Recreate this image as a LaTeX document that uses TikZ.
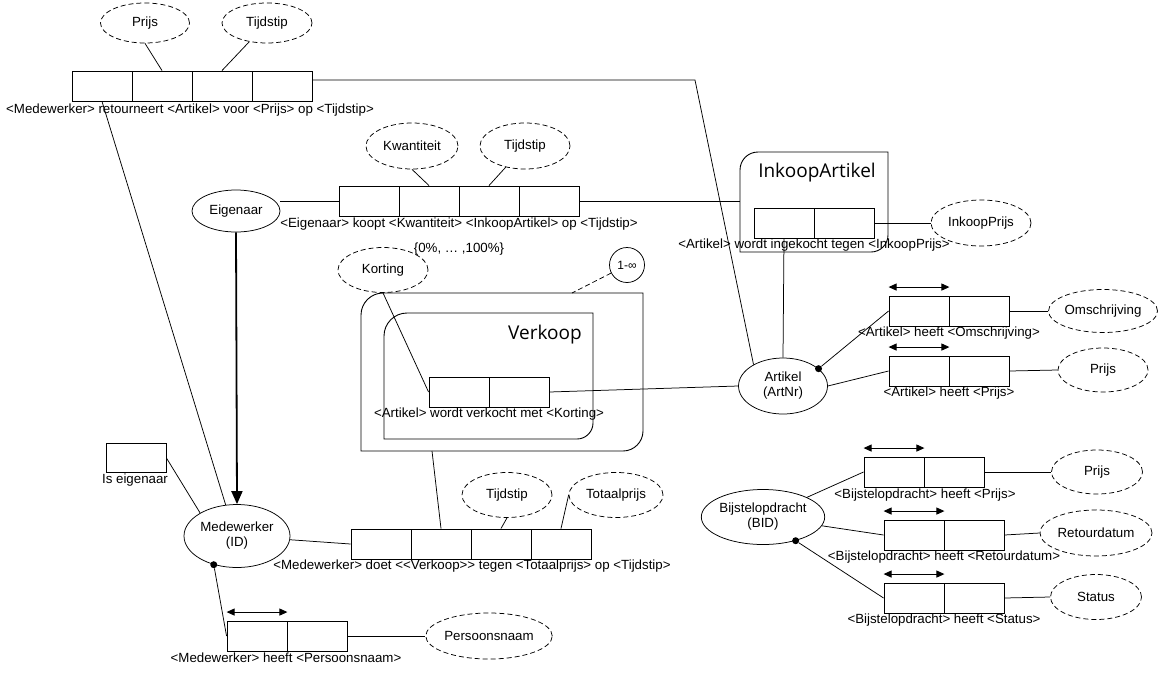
\documentclass[tikz,border=0pt]{standalone}
\usepackage{fontspec}
\setmainfont{Liberation Sans}
\newfontfamily\titlefont{Open Sans}
\usetikzlibrary{shapes.geometric,arrows.meta,calc}
\newcommand\labfont{\fontsize{13.3}{15}\selectfont}
\begin{document}
\begin{tikzpicture}[x=1pt,y=-1pt,
  every node/.style={font=\labfont},
  cell/.style={draw, line width=0.9pt, minimum width=60pt, minimum height=30pt, inner sep=0pt},
  attr/.style={ellipse, draw, dash pattern=on 5pt off 3pt, line width=0.75pt, inner sep=0pt, minimum width=90pt, minimum height=44pt},
  ent/.style={ellipse, draw, line width=0.75pt, inner sep=0pt, align=center},
  lbl/.style={inner sep=0pt},
  conn/.style={line width=0.75pt},
  uniq/.style={{Triangle[length=8pt,width=7pt]}-{Triangle[length=8pt,width=7pt]}, line width=0.9pt},
  dotn/.style={circle, fill, inner sep=0pt, minimum size=7pt},
  ghost/.style={inner sep=0pt},
  title/.style={inner sep=0pt, font=\titlefont\fontsize{19}{22}\selectfont},
  container/.style={line width=0.9pt}
]
\useasboundingbox (0,0) rectangle (1160,673);

% ---------- retourneert fact ----------
\node[cell] (r1) at (102,86) {};
\node[cell] (r2) at (162,86) {};
\node[cell] (r3) at (222,86) {};
\node[cell] (r4) at (282,86) {};
\node[lbl] (rl) at (190,110) {<Medewerker> retourneert <Artikel> voor <Prijs> op <Tijdstip>};
\node[attr, minimum width=89pt, minimum height=40pt] (prijsA) at (145,23) {Prijs};
\node[attr, minimum height=40pt] (tijdA) at (267,23) {Tijdstip};

% ---------- koopt fact ----------
\node[ent, minimum width=88pt, minimum height=42pt] (eig) at (236,211) {Eigenaar};
\node[cell] (k1) at (369,201) {};
\node[cell] (k2) at (429,201) {};
\node[cell] (k3) at (489,201) {};
\node[cell] (k4) at (549,201) {};
\node[lbl] (kl) at (459,224) {<Eigenaar> koopt <Kwantiteit> <InkoopArtikel> op <Tijdstip>};
\node[attr, minimum width=92pt, minimum height=46pt] (kwant) at (412,146) {Kwantiteit};
\node[attr, minimum height=46pt] (tijdB) at (525,146) {Tijdstip};

% ---------- InkoopArtikel ----------
\node[ghost, minimum width=148pt, minimum height=100pt] (inkbox) at (814,202) {};
\draw[container] (740,252) -- (740,170) .. controls (740,160) and (748,152) .. (758,152) -- (888,152) -- (888,235) .. controls (888,244.4) and (880.4,252) .. (871,252) -- cycle;
\node[title] (inkt) at (817,173) {InkoopArtikel};
\node[cell] (ink1) at (784,223) {};
\node[cell] (ink2) at (844,223) {};
\node[lbl] (inkl) at (814,245) {<Artikel> wordt ingekocht tegen <InkoopPrijs>};
\node[attr, minimum width=100pt, minimum height=46pt] (ip) at (981,223) {InkoopPrijs};

% ---------- Verkoop ----------
\node[ghost, minimum width=282pt, minimum height=158pt] (verk) at (502,372) {};
\draw[container] (361,451) -- (361,315) .. controls (361,302.9) and (370.9,293) .. (383,293) -- (643,293) -- (643,431) .. controls (643,442) and (634,451) .. (623,451) -- cycle;
\draw[container] (384,439) -- (384,336) .. controls (384,323.3) and (394.3,313) .. (407,313) -- (593,313) -- (593,423) .. controls (593,431.8) and (585.8,439) .. (577,439) -- cycle;
\node[title] (verkt) at (545,335) {Verkoop};
\node[cell] (v1) at (459,392) {};
\node[cell] (v2) at (519,392) {};
\node[lbl] (vl) at (489,414) {<Artikel> wordt verkocht met <Korting>};
\node[attr, minimum height=45pt] (kort) at (383,270) {Korting};
\node[lbl] (range) at (459,249) {\{0\%, … ,100\%\}};
\node[circle, draw, line width=0.75pt, minimum size=35pt, inner sep=0pt, font=\fontsize{12}{13}\selectfont] (one) at (627,265) {1-∞};
\coordinate (vt) at (572,293);
\coordinate (vb) at (432,451);

% ---------- Artikel ----------
\node[ent, minimum width=89pt, minimum height=56pt] (art) at (783,386) {Artikel\\(ArtNr)};
\node[cell] (ao1) at (919,311) {};
\node[cell] (ao2) at (979,311) {};
\node[lbl] (aol) at (949,333) {<Artikel> heeft <Omschrijving>};
\node[attr, minimum width=109pt, minimum height=43pt] (omsch) at (1103,311) {Omschrijving};
\node[cell] (ap1) at (919,371) {};
\node[cell] (ap2) at (979,371) {};
\node[lbl] (apl) at (949,393) {<Artikel> heeft <Prijs>};
\node[attr] (aprijs) at (1103,370) {Prijs};

% ---------- Bijstelopdracht ----------
\node[ent, minimum width=121pt, minimum height=55pt] (bij) at (763,517) {Bijstelopdracht\\(BID)};
\node[cell] (bp1) at (894,472) {};
\node[cell] (bp2) at (954,472) {};
\node[lbl] (bpl) at (925,495) {<Bijstelopdracht> heeft <Prijs>};
\node[attr, minimum width=91pt] (bprijs) at (1097,472) {Prijs};
\node[cell] (br1) at (914,535) {};
\node[cell] (br2) at (974,535) {};
\node[lbl] (brl) at (944,557) {<Bijstelopdracht> heeft <Retourdatum>};
\node[attr, minimum width=112pt, minimum height=46pt] (ret) at (1096,533) {Retourdatum};
\node[cell] (bs1) at (914,598) {};
\node[cell] (bs2) at (974,598) {};
\node[lbl] (bsl) at (944,620) {<Bijstelopdracht> heeft <Status>};
\node[attr, minimum width=91pt, minimum height=45pt] (stat) at (1096,597) {Status};

% ---------- Medewerker ----------
\node[ent, minimum width=106pt, minimum height=63pt] (med) at (237,536) {Medewerker\\(ID)};
\node[cell, minimum height=29pt] (ie) at (136,458) {};
\node[lbl] (iel) at (135,480) {Is eigenaar};
\node[cell] (m1) at (381,544) {};
\node[cell] (m2) at (441,544) {};
\node[cell] (m3) at (501,544) {};
\node[cell] (m4) at (561,544) {};
\node[lbl] (ml) at (472,566) {<Medewerker> doet <\kern0pt<Verkoop>\kern0pt> tegen <Totaalprijs> op <Tijdstip>};
\node[attr, minimum height=45pt] (tijdC) at (507,495) {Tijdstip};
\node[attr, minimum width=94pt, minimum height=45pt] (totaal) at (616,495) {Totaalprijs};
\node[cell] (per1) at (257,636) {};
\node[cell] (per2) at (317,636) {};
\node[lbl] (perl) at (286,658) {<Medewerker> heeft <Persoonsnaam>};
\node[attr, minimum width=122pt, minimum height=46pt] (pn) at (489,636) {Persoonsnaam};

% dots
\node[dotn] (d1) at (art.26) {};
\node[dotn] (d2) at (bij.-36) {};
\node[dotn] (d3) at (med.231) {};

% ---------- connectors ----------
\coordinate (c1) at (695,80);
\draw[conn] (prijsA.south) -- (r2.north);
\draw[conn] (tijdA) -- (r3.north);
\draw[conn] (r4.east |- c1) -- (c1) -- (art.144);
\draw[conn] (r1.south) -- (med.110);

\draw[conn] (k1.west) -- (k1.west -| eig.east);
\draw[conn] (kwant.south) -- (k2.north);
\draw[conn] (tijdB) -- (k3.north);
\draw[conn] (k4.east) -- (k4.east -| inkbox.west);
\draw[conn] (ink2.east) -- (ip.west);
\draw[conn] (ink1.south) -- (art.north);

\draw[conn] (kort.south) -- (v1.west);
\draw[conn, dash pattern=on 5pt off 3pt] (one) -- (vt);
\draw[conn] (v2.east) -- (art.west);
\draw[conn] (vb) -- (m2.north);

\draw[line width=1.8pt, -{Triangle[length=13pt,width=11pt]}] (eig.south) -- (med.north);
\draw[conn] (ie.east) -- (med.148);
\draw[conn] (med) -- (m1.west);
\draw[conn] (tijdC.south) -- (m3.north);
\draw[conn] (totaal.west) -- (m4.north);
\draw[conn] (d3) -- (per1.west);
\draw[conn] (per2.east) -- (pn.west);
\draw[uniq] ([yshift=8.5pt]per1.north west) -- ([yshift=8.5pt]per1.north east);

\draw[conn] (art.east) -- (ap1.west);
\draw[conn] (d1) -- (ao1.west);
\draw[conn] (ao2.east) -- (omsch.west);
\draw[conn] (ap2.east) -- (aprijs.west);
\draw[uniq] ([yshift=8.5pt]ao1.north west) -- ([yshift=8.5pt]ao1.north east);
\draw[uniq] ([yshift=8.5pt]ap1.north west) -- ([yshift=8.5pt]ap1.north east);

\draw[conn] (bij) -- (bp1.west);
\draw[conn] (bp2.east) -- (bprijs.west);
\draw[conn] (bij) -- (br1.west);
\draw[conn] (br2.east) -- (ret.west);
\draw[conn] (d2) -- (bs1.west);
\draw[conn] (bs2.east) -- (stat.west);
\draw[uniq] ([yshift=8.5pt]bp1.north west) -- ([yshift=8.5pt]bp1.north east);
\draw[uniq] ([yshift=8.5pt]br1.north west) -- ([yshift=8.5pt]br1.north east);
\draw[uniq] ([yshift=8.5pt]bs1.north west) -- ([yshift=8.5pt]bs1.north east);
\end{tikzpicture}
\end{document}
